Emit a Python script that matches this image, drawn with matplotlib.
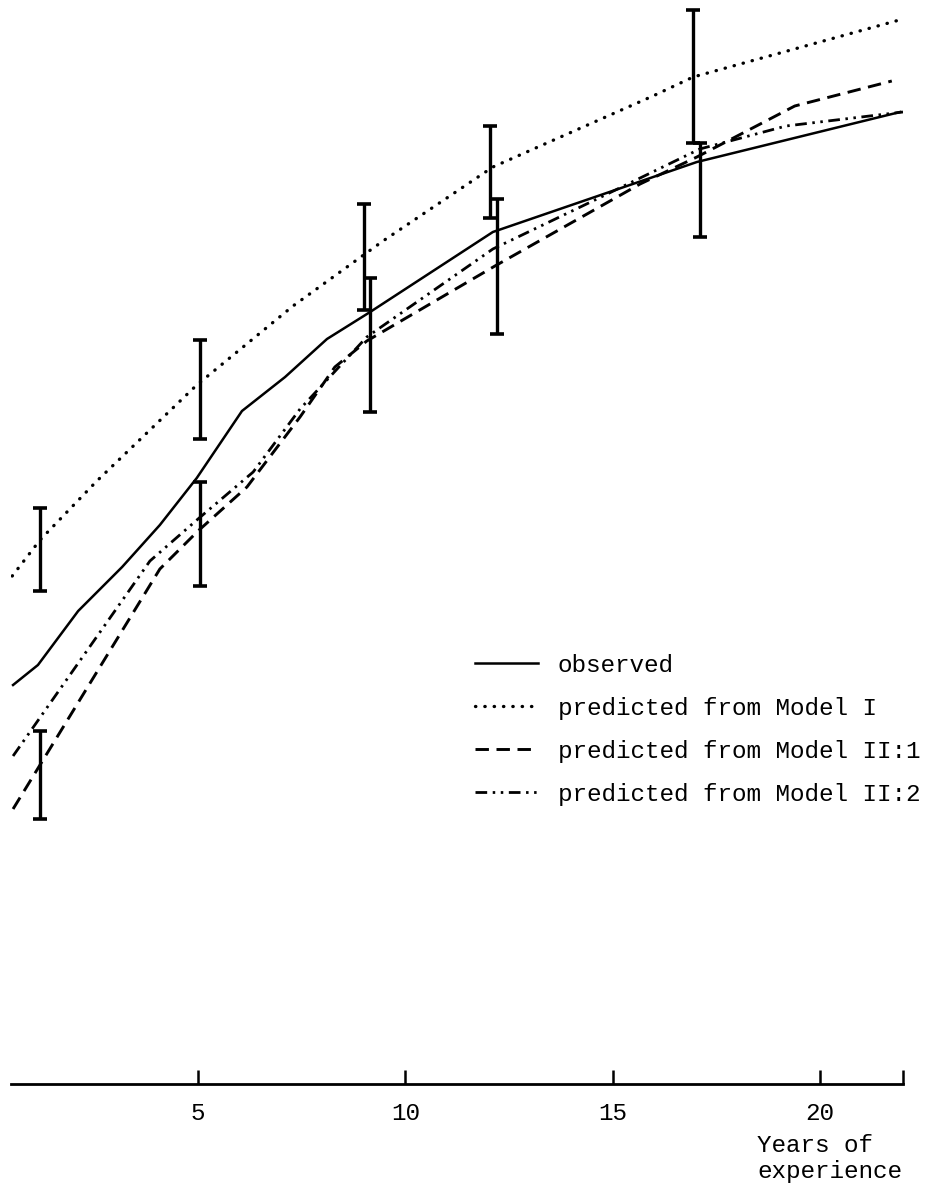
import matplotlib
matplotlib.use("Agg")
import matplotlib.pyplot as plt
import numpy as np

# ---- data (years of experience vs. arbitrary earnings scale) ----
obs_x = [0.54, 1.14, 2.11, 3.17, 4.08, 4.97, 6.06, 7.10, 8.11, 9.15, 12.11, 17.03, 21.93]
obs_y = [3.99, 4.19, 4.73, 5.17, 5.59, 6.06, 6.73, 7.07, 7.45, 7.72, 8.52, 9.22, 9.72]

m1_x = [0.52, 1.19, 2.56, 4.97, 7.29, 9.46, 12.11, 15.97, 16.94, 22.0]
m1_y = [5.08, 5.44, 6.03, 6.99, 7.78, 8.43, 9.17, 9.88, 10.07, 10.65]

m21_x = [0.54, 4.08, 5.00, 6.18, 7.46, 8.30, 9.07, 12.16, 15.66, 17.03, 19.39, 21.73]
m21_y = [2.75, 5.15, 5.53, 5.97, 6.67, 7.17, 7.43, 8.18, 9.00, 9.27, 9.78, 10.03]

m22_x = [0.54, 3.84, 5.00, 6.33, 7.46, 9.07, 12.11, 14.62, 17.10, 19.18, 22.0]
m22_y = [3.28, 5.23, 5.65, 6.12, 6.75, 7.47, 8.35, 8.85, 9.35, 9.58, 9.72]

# interval bars: upper set and lower set (low, high)
barA_x = [1.19, 5.04, 9.00, 12.04, 16.94]
barA_lo = [4.93, 6.45, 7.74, 8.66, 9.41]
barA_hi = [5.76, 7.44, 8.80, 9.58, 10.74]

barB_x = [1.19, 5.04, 9.15, 12.20, 17.10]
barB_lo = [2.65, 4.98, 6.72, 7.50, 8.47]
barB_hi = [3.53, 6.02, 8.06, 8.85, 9.41]

xticks = [5, 10, 15, 20, 22]
xticklabels = ["5", "10", "15", "20", ""]

labels = ["observed", "predicted from Model I",
          "predicted from Model II:1", "predicted from Model II:2"]

# ---- figure ----
W, H = 936, 1189
fig = plt.figure(figsize=(W / 100, H / 100), dpi=100)
left_px, right_px = 11.4, 903
bottom_px = 1084
ax = fig.add_axes([left_px / W, (H - bottom_px) / H, (right_px - left_px) / W, bottom_px / H])
ax.set_xlim(0.5, 22)
ax.set_ylim(0, 10.84)

mono = "Liberation Mono"
fs = 17.5

l_obs, = ax.plot(obs_x, obs_y, color="black", lw=1.8, ls="-")
l_m1, = ax.plot(m1_x, m1_y, color="black", lw=2.4, ls=(0, (0.1, 2.7)), dash_capstyle="round")
l_m21, = ax.plot(m21_x, m21_y, color="black", lw=2.1, ls=(0, (4.6, 2.6)))
l_m22, = ax.plot(m22_x, m22_y, color="black", lw=2.0, ls=(0, (4.2, 2.0, 0.9, 2.0, 0.9, 2.0)))

for bx, lo, hi in ((barA_x, barA_lo, barA_hi), (barB_x, barB_lo, barB_hi)):
    lo = np.array(lo)
    hi = np.array(hi)
    c = (lo + hi) / 2
    e = (hi - lo) / 2
    ax.errorbar(bx, c, yerr=e, fmt="none", ecolor="black", elinewidth=2.4,
                capsize=5, capthick=2.6)

for s in ("left", "top", "right"):
    ax.spines[s].set_visible(False)
ax.spines["bottom"].set_linewidth(2.0)
ax.set_yticks([])
ax.set_xticks(xticks)
ax.set_xticklabels(xticklabels, fontfamily=mono, fontsize=fs)
ax.tick_params(axis="x", direction="in", length=10, width=1.8, pad=13)

fig.text(757 / W, 1 - 1134 / H, "Years of\nexperience", fontfamily=mono,
         fontsize=fs, ha="left", va="top", linespacing=1.15)

leg = ax.legend([l_obs, l_m1, l_m21, l_m22], labels, loc="upper left",
                bbox_to_anchor=(475 / W, 1 - 654 / H), bbox_transform=fig.transFigure,
                frameon=False, borderpad=0, borderaxespad=0, handlelength=2.6,
                handletextpad=0.8, labelspacing=0.82,
                prop={"family": mono, "size": fs})

fig.savefig("out.png", dpi=100)
